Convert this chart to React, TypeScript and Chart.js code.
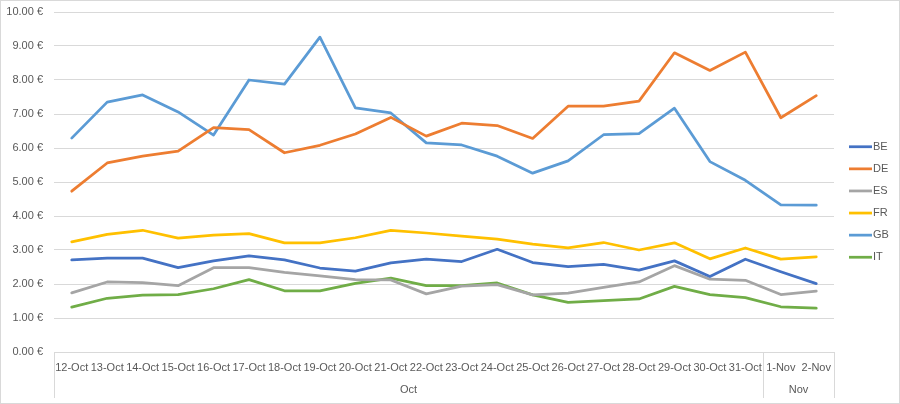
import React, { useEffect, useRef } from "react";
import { Chart, registerables } from "chart.js";

Chart.register(...registerables);

const categories = [
  "12-Oct", "13-Oct", "14-Oct", "15-Oct", "16-Oct", "17-Oct", "18-Oct", "19-Oct",
  "20-Oct", "21-Oct", "22-Oct", "23-Oct", "24-Oct", "25-Oct", "26-Oct", "27-Oct",
  "28-Oct", "29-Oct", "30-Oct", "31-Oct", "1-Nov", "2-Nov",
];
const groupLabels = ["Oct", "Nov"];
const groupSizes = [20, 2];

const BE = [2.71, 2.76, 2.76, 2.48, 2.68, 2.83, 2.71, 2.47, 2.38, 2.62, 2.73, 2.66, 3.02, 2.63, 2.51, 2.58, 2.41, 2.68, 2.22, 2.73, 2.36, 2.01];
const DE = [4.73, 5.56, 5.76, 5.91, 6.6, 6.54, 5.86, 6.08, 6.41, 6.9, 6.35, 6.73, 6.66, 6.28, 7.23, 7.23, 7.38, 8.8, 8.28, 8.82, 6.89, 7.54];
const ES = [1.74, 2.06, 2.04, 1.95, 2.48, 2.48, 2.34, 2.24, 2.13, 2.12, 1.71, 1.94, 1.98, 1.68, 1.73, 1.9, 2.06, 2.54, 2.14, 2.11, 1.69, 1.79];
const FR = [3.24, 3.46, 3.58, 3.35, 3.44, 3.48, 3.21, 3.21, 3.36, 3.58, 3.5, 3.41, 3.32, 3.17, 3.06, 3.22, 3.0, 3.21, 2.74, 3.06, 2.73, 2.8];
const GB = [6.29, 7.35, 7.56, 7.06, 6.38, 8.0, 7.88, 9.26, 7.18, 7.03, 6.15, 6.09, 5.76, 5.26, 5.62, 6.39, 6.42, 7.17, 5.6, 5.05, 4.33, 4.32];
const IT = [1.32, 1.58, 1.67, 1.69, 1.86, 2.13, 1.8, 1.8, 2.02, 2.17, 1.95, 1.95, 2.03, 1.68, 1.46, 1.51, 1.56, 1.93, 1.69, 1.6, 1.33, 1.29];

const seriesNames = ["BE", "DE", "ES", "FR", "GB", "IT"];
const seriesValues = [BE, DE, ES, FR, GB, IT];
const seriesColors = ["#4472C4", "#ED7D31", "#A5A5A5", "#FFC000", "#5B9BD5", "#70AD47"];

const yMin = 0;
const yMax = 10;
const yStep = 1;

const FONT = "'Liberation Sans', Arial, sans-serif";
const TEXT = "#595959";
const GRID = "#d9d9d9";

const extrasPlugin = {
  id: "extras",
  beforeDraw(chart: any) {
    const ctx = chart.ctx;
    ctx.save();
    ctx.fillStyle = "#ffffff";
    ctx.fillRect(0, 0, chart.width, chart.height);
    ctx.restore();
  },
  afterDraw(chart: any) {
    const ctx = chart.ctx;
    const xs = chart.scales.x;
    const n = chart.data.labels.length;
    const w = xs.width / n;
    const top = xs.top;
    const bottom = top + 46;
    ctx.save();
    ctx.strokeStyle = GRID;
    ctx.lineWidth = 1;
    // outer border
    ctx.strokeRect(0.5, 0.5, chart.width - 1, chart.height - 1);
    // separators
    let idx = 0;
    const bounds = [0];
    groupSizes.forEach((s) => {
      idx += s;
      bounds.push(idx);
    });
    bounds.forEach((b) => {
      const x = Math.round(xs.left + w * b) + 0.5;
      ctx.beginPath();
      ctx.moveTo(x, top);
      ctx.lineTo(x, bottom);
      ctx.stroke();
    });
    // group labels
    ctx.fillStyle = TEXT;
    ctx.font = `11px ${FONT}`;
    ctx.textAlign = "center";
    ctx.textBaseline = "middle";
    groupLabels.forEach((g, i) => {
      const x = xs.left + w * ((bounds[i] + bounds[i + 1]) / 2);
      ctx.fillText(g, x, top + 38);
    });
    // legend
    const ds = chart.data.datasets;
    const spacing = 22.1;
    const startY = chart.height / 2 - ((ds.length - 1) * spacing) / 2;
    ds.forEach((d: any, i: number) => {
      const y = startY + i * spacing;
      ctx.strokeStyle = d.borderColor;
      ctx.lineWidth = 2.75;
      ctx.lineCap = "butt";
      ctx.beginPath();
      ctx.moveTo(849, y);
      ctx.lineTo(872, y);
      ctx.stroke();
      ctx.fillStyle = TEXT;
      ctx.textAlign = "left";
      ctx.fillText(d.label, 873, y);
    });
    ctx.restore();
  },
};

export default function App() {
  const ref = useRef<HTMLCanvasElement | null>(null);
  useEffect(() => {
    if (!ref.current) return;
    const chart = new Chart(ref.current, {
      type: "line",
      data: {
        labels: categories,
        datasets: seriesNames.map((name, i) => ({
          label: name,
          data: seriesValues[i],
          borderColor: seriesColors[i],
          backgroundColor: seriesColors[i],
          borderWidth: 2.75,
          pointRadius: 0,
          pointHoverRadius: 0,
          tension: 0,
          fill: false,
          borderJoinStyle: "round" as const,
          borderCapStyle: "round" as const,
        })),
      },
      options: {
        animation: false,
        responsive: true,
        maintainAspectRatio: false,
        layout: { padding: { left: 0, right: 66, top: 12, bottom: 0 } },
        plugins: {
          legend: { display: false },
          tooltip: { enabled: false },
        },
        scales: {
          x: {
            offset: true,
            grid: { display: false, drawTicks: false },
            border: { display: true, color: GRID, width: 1 },
            ticks: {
              autoSkip: false,
              maxRotation: 0,
              minRotation: 0,
              padding: 9,
              color: TEXT,
              font: { family: FONT, size: 11 },
            },
            afterFit: (s: any) => {
              s.height = 52;
              s.paddingLeft = 0;
              s.paddingRight = 0;
            },
          },
          y: {
            min: yMin,
            max: yMax,
            grid: { color: GRID, drawTicks: false },
            border: { display: false },
            ticks: {
              stepSize: yStep,
              padding: 11,
              color: TEXT,
              font: { family: FONT, size: 11 },
              callback: (v: any) => `${Number(v).toFixed(2)} €`,
            },
            afterFit: (s: any) => {
              s.width = 54;
              s.paddingTop = 0;
              s.paddingBottom = 0;
            },
          },
        },
      },
      plugins: [extrasPlugin],
    });
    return () => chart.destroy();
  }, []);
  return (
    <div style={{ position: "absolute", left: 0, top: 0, width: 900, height: 404 }}>
      <canvas ref={ref} />
    </div>
  );
}
